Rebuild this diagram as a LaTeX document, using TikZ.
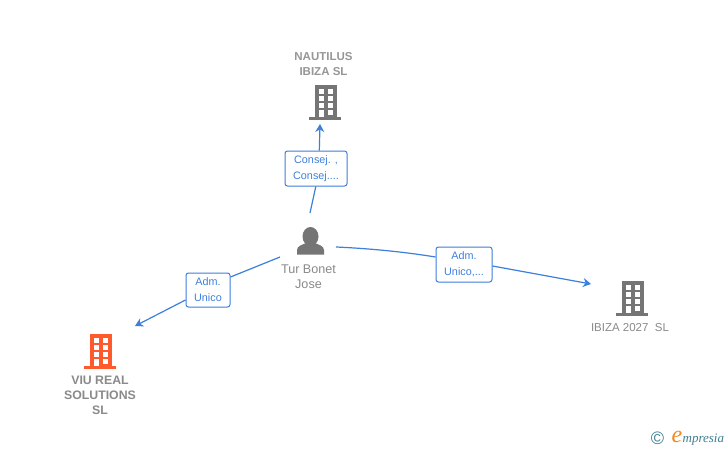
\documentclass[tikz,border=0pt]{standalone}
\usepackage{fontspec}
\setmainfont{Liberation Sans}
\newfontfamily\logoserif{Liberation Serif}
\usetikzlibrary{arrows.meta}
\definecolor{linkblue}{HTML}{3C7FDC}
\definecolor{labelblue}{HTML}{3F80DC}
\definecolor{icongrey}{HTML}{757575}
\definecolor{textgrey}{HTML}{8A8A8A}
\definecolor{iconorange}{HTML}{FF5A2B}
\definecolor{logoteal}{HTML}{3F7F93}
\definecolor{logoorange}{HTML}{F28A1E}
\tikzset{
  rolebox/.style={draw=linkblue,line width=1pt,rounded corners=2.5pt,fill=white,text=labelblue,
    font=\fontsize{10.8}{16}\selectfont,align=center,inner sep=0pt},
  entity/.style={text=textgrey,font=\fontsize{11.5}{15}\selectfont,align=center,inner sep=0pt},
  entitybold/.style={entity,font=\fontsize{12.3}{15}\selectfont\bfseries},
  link/.style={draw=linkblue,line width=1.2pt},
  linkarrow/.style={link,-{Stealth[length=8pt,width=9pt]}},
  pics/building/.style={code={
    \fill[#1] (-10,-32) rectangle (12,0);
    \fill[#1] (-16,0) rectangle (16,3);
    \foreach \yy in {-28,-21,-14}{
      \fill[white] (-6.5,\yy) rectangle (-1.5,\yy+4.5);
      \fill[white] (3,\yy) rectangle (8,\yy+4.5);
    }
    \fill[white] (-6.5,-7) rectangle (-1.5,0);
    \fill[white] (3,-7) rectangle (8,-2.5);
  }},
  pics/person/.style={code={
    \fill[#1] (0,-0.5) ellipse [x radius=8,y radius=9.5];
    \fill[#1] (-13.5,17.5) -- (-13.5,13) .. controls (-13.5,9) and (-8,7.5) .. (-4,6) -- (-3,2) -- (3,2) -- (4,6)
       .. controls (8,7.5) and (13.5,9) .. (13.5,13) -- (13.5,17.5) -- cycle;
  }}
}
\begin{document}
\begin{tikzpicture}[x=1pt,y=-1pt]
\useasboundingbox (0,0) rectangle (728,450);
\fill[white] (0,0) rectangle (728,450);

% icons
\pic at (325,117) {building=icongrey};
\pic at (100,366) {building=iconorange};
\pic at (632,313) {building=icongrey};
\pic at (310.5,237) {person=icongrey};

% texts
\node[entity,font=\fontsize{11.5}{15}\selectfont\bfseries,text=textgrey!90] (nautilus) at (323.5,64) {NAUTILUS\\IBIZA SL};
\node[entitybold] (viu) at (100,395.5) {VIU REAL\\SOLUTIONS\\SL};
\node[entity] (ibiza) at (630,327.5) {IBIZA 2027\ \ SL};
\node[entity,font=\fontsize{12.6}{15}\selectfont] (tur) at (308.5,277) {Tur Bonet\\Jose};

% role labels
\node[rolebox,minimum width=62pt,minimum height=35pt] (r1) at (316,168.5) {Consej. ,\\Consej....};
\node[rolebox,minimum width=44pt,minimum height=34pt] (r2) at (208,290) {Adm.\\Unico};
\node[rolebox,minimum width=56pt,minimum height=35pt] (r3) at (464,264.5) {Adm.\\Unico,...};

% free ends
\coordinate (a1) at (310,213);
\coordinate (a2) at (280,257);
\coordinate (a3) at (336,247);
\coordinate (e1) at (320,124);
\coordinate (e2) at (135,326);
\coordinate (e3) at (591,284);

% connectors
\draw[link] (a1) -- (r1.south -| 315.8,0);
\draw[linkarrow] (r1.north -| 319.3,0) -- (e1);
\draw[link] (a2) -- (r2.east |- 0,277);
\draw[linkarrow] (r2.west |- 0,300) -- (e2);
\draw[link] (a3) .. controls (370,248.5) and (405,252) .. (r3.west |- 0,257);
\draw[linkarrow] (r3.east |- 0,266) -- (e3);

% logo
\node[text=logoteal,inner sep=0pt,font=\fontsize{18}{18}\selectfont] (copy) at (657.5,438.5) {©};
\node[text=logoorange,inner sep=0pt,font=\logoserif\fontsize{24}{24}\selectfont\itshape] (elogo) at (677,436.5) {e};
\node[text=logoteal,inner sep=0pt,anchor=west,font=\logoserif\fontsize{13}{13}\selectfont\itshape] (mpresia) at (682.5,440) {mpresia};
\end{tikzpicture}
\end{document}
